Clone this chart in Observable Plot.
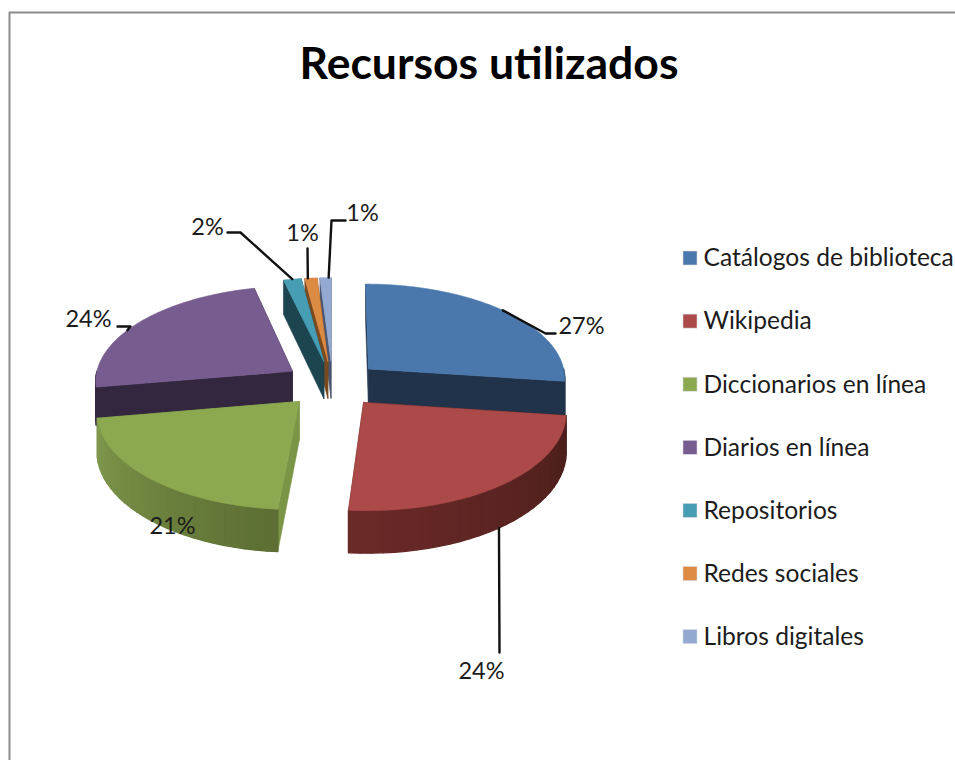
<!DOCTYPE html>
<html><head><meta charset="utf-8">
<script src="https://cdn.jsdelivr.net/npm/d3@7"></script>
<script src="https://cdn.jsdelivr.net/npm/@observablehq/plot@0.6"></script>
<style>html,body{margin:0;padding:0;background:#fff;overflow:hidden}svg{display:block}</style>
</head><body><div id="chart"></div>
<script>
// Data
const categories = ["Catálogos de biblioteca","Wikipedia","Diccionarios en línea","Diarios en línea","Repositorios","Redes sociales","Libros digitales"];
const shares = [27.1,24.1,21.1,24,1.6,1.1,1];
const chartTitle = "Recursos utilizados";
// Styles
const topColors  = ["#4a78ac","#ab4a48","#8ca950","#775c90","#469db4","#dd8a43","#94a9d2"];
const wallColors = ["#20334b","#4a1f1c","#7a9546","#33273f","#1d4550","#7a4a1e","#4a5670"];
const rimColors  = [["#20334b","#20334b"],["#4a1e1c","#6b2a28"],["#5c6e32","#80994e"],["#33273f","#33273f"],["#1d4550","#1d4550"],["#7a4a1e","#7a4a1e"],["#4a5670","#4a5670"]];
// Annotation layout
const labelPos = [[581,326],[481,671],[172,526],[88,319],[207,227],[302,233],[362,213]];
const leaderVia = [[[545,333],[555,333]],[[499,652]],[],[[130,326],[117,326]],[[240,232],[227,232]],[[307,248]],[[331,220],[345,220]]];
const anchorH = [0,1,0,0,0,0,0];
const anchorShift = [-1,1,0,-6,0,-1,1];
// Pie geometry
const cx=332, cy=383.5, R=198, Rk=95, persp=0.09, H=38, explode=0.245, warp=0.4;
const rad=d=>d*Math.PI/180;
const total=d3.sum(shares);
let acc=0;
const slices=shares.map((v,i)=>{const a0=acc/total*360; acc+=v; const a1=acc/total*360; return {i,a0,a1,m:(a0+a1)/2};});
function proj(s,a,r,h){
  const b=a+warp*Math.max(0,-Math.cos(rad(a)));
  const u=explode*Math.sin(rad(s.m))+r*Math.sin(rad(b));
  const v=-explode*Math.cos(rad(s.m))-r*Math.cos(rad(b));
  const k=1/(1-persp*v);
  return {x:cx+R*u*k, y:cy+Rk*v*k+H*h*k};
}
function arc(s,a0,a1,h){
  const n=Math.max(1,Math.ceil((a1-a0)));
  return d3.range(n+1).map(j=>proj(s,a0+(a1-a0)*j/n,1,h));
}
const polys=[];
const add=(pts,fill,sw=.6)=>polys.push({pts:[...pts,pts[0]],fill,sw});
const order=[6,5,4,3,0,2,1];
for(const idx of order){
  const s=slices[idx];
  for(const a of [s.a0,s.a1]){
    add([proj(s,a,0,0),proj(s,a,1,0),proj(s,a,1,1),proj(s,a,0,1)],wallColors[idx]);
  }
  const f0=Math.max(s.a0,90), f1=Math.min(s.a1,270);
  if(f1>f0){
    const n=Math.ceil((f1-f0)/3);
    const mix=d3.interpolateRgb(rimColors[idx][0],rimColors[idx][1]);
    for(let j=0;j<n;j++){
      const b0=f0+(f1-f0)*j/n, b1=f0+(f1-f0)*(j+1)/n;
      add([proj(s,b0,1,0),proj(s,b1,1,0),proj(s,b1,1,1),proj(s,b0,1,1)],mix((j+.5)/n),1.4);
    }
  }
  add([proj(s,s.a0,0,0),...arc(s,s.a0,s.a1,0)],topColors[idx]);
}
// Labels & leaders
const labels=slices.map((s,i)=>({t:Math.round(shares[i])+"%",x:labelPos[i][0],y:labelPos[i][1]}));
const leaders=slices.filter(s=>leaderVia[s.i].length).map(s=>{
  const p=proj(s,s.m+anchorShift[s.i],1,anchorH[s.i]);
  return [p,...leaderVia[s.i].map(([x,y])=>({x,y}))];
});
// Legend
const legendX=683, legendTop=258, legendStep=63.1, sw=14;
const legend=categories.map((c,i)=>({c,i,y:legendTop+i*legendStep,fill:topColors[i]}));

const font="Lato, Carlito, sans-serif";
const plot=Plot.plot({
  width:955,height:760,margin:0,
  x:{domain:[0,955],range:[0,955],axis:null},
  y:{domain:[0,760],range:[0,760],axis:null},
  style:{background:"#fff",fontFamily:font},
  marks:[
    Plot.line([{x:955,y:12},{x:9,y:12},{x:9,y:760}],{x:"x",y:"y",stroke:"#8c8c8c",strokeWidth:2}),
    ...polys.map(p=>Plot.line(p.pts,{x:"x",y:"y",fill:p.fill,stroke:p.fill,strokeWidth:p.sw,curve:"linear"})),
    ...leaders.map(l=>Plot.line(l,{x:"x",y:"y",stroke:"#111",strokeWidth:2.4,curve:"linear"})),
    Plot.text(labels,{x:"x",y:"y",text:"t",fontSize:23.5,fill:"#1c1c1c",textAnchor:"middle"}),
    Plot.text([chartTitle],{x:[488.5],y:[64],text:d=>d,fontSize:44.5,fontWeight:700,fill:"#000",textAnchor:"middle"}),
    Plot.rect(legend,{x1:()=>legendX,x2:()=>legendX+sw,y1:d=>d.y-sw/2,y2:d=>d.y+sw/2,fill:"fill",stroke:"#d8d8e0",strokeWidth:.6}),
    Plot.text(legend,{x:()=>703,y:"y",text:"c",fontSize:24.6,fill:"#1c1c1c",textAnchor:"start"})
  ],
  color:{type:"identity"}
});
document.getElementById("chart").appendChild(plot);
</script></body></html>
